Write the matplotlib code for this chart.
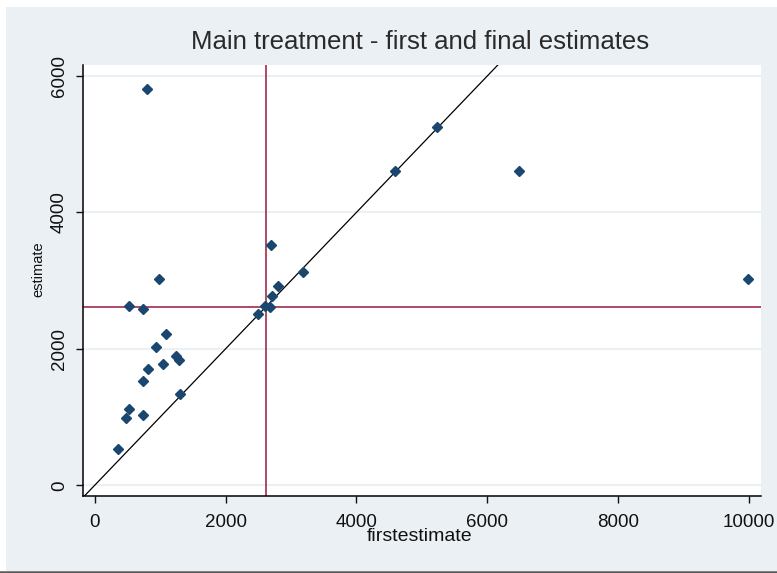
import matplotlib
matplotlib.use("Agg")
import matplotlib.pyplot as plt
from matplotlib.patches import Rectangle
from matplotlib.lines import Line2D

plt.rcParams['font.family'] = ['Liberation Sans', 'DejaVu Sans']

# data
firstestimate = [800, 990, 520, 740, 1090, 940, 1240, 1290, 1040, 820, 740, 1300,
                 525, 475, 740, 350, 2490, 2600, 2680, 2710, 2795, 2690, 3190,
                 4595, 5230, 6480, 9990]
estimate = [5805, 3030, 2630, 2580, 2225, 2020, 1890, 1830, 1785, 1710, 1525, 1335,
            1125, 980, 1030, 535, 2515, 2635, 2610, 2770, 2915, 3520, 3125,
            4600, 5256, 4600, 3025]
ref_x = 2618
ref_y = 2615
xticks = [0, 2000, 4000, 6000, 8000, 10000]
yticks = [0, 2000, 4000, 6000]

W, H = 777, 573
fig = plt.figure(figsize=(W / 100, H / 100), dpi=100)
fig.patch.set_facecolor("white")

# stata-like graph region
fig.patches.append(Rectangle((6 / W, 2 / H), 1 - 6 / W, 1 - 9 / H, transform=fig.transFigure,
                             facecolor="#ebf0f5", edgecolor="none", zorder=-10))
fig.lines.append(Line2D([0, 1], [1.2 / H, 1.2 / H], transform=fig.transFigure,
                        color="#5a5a5a", lw=1.8, zorder=-5))

ax = fig.add_axes([83.3 / W, 1 - 496 / H, (761 - 83.3) / W, (496 - 65) / H])
ax.set_facecolor("white")

ax.set_xlim(-174, 10183)
ax.set_ylim(-157, 6161)

for t in yticks:
    ax.axhline(t, color="#eaf0f3", lw=1.5, zorder=1)

ax.plot([-500, 11000], [-500, 11000], color="black", lw=0.9, zorder=2)
ax.axvline(ref_x, color="#a02c4c", lw=1.2, zorder=2)
ax.axhline(ref_y, color="#a02c4c", lw=1.2, zorder=2)

ax.plot(firstestimate, estimate, "D", color="#1a476f", markersize=5.5, zorder=3)

ax.set_xticks(xticks)
ax.set_yticks(yticks)
ax.tick_params(axis="both", direction="out", length=5, width=1, labelsize=13.5,
               colors="#111111")
ax.tick_params(axis="x", pad=8)
ax.tick_params(axis="y", pad=6)
for lab in ax.get_yticklabels():
    lab.set_rotation(90)
    lab.set_va("center")

for s in ["top", "right"]:
    ax.spines[s].set_visible(False)
for s in ["left", "bottom"]:
    ax.spines[s].set_linewidth(1.1)

ax.set_xlabel("firstestimate", fontsize=14, va="center", color="#111111")
ax.xaxis.set_label_coords(0.4968, -0.0951)
ax.set_ylabel("estimate", fontsize=10.5, va="center", color="#111111")
ax.yaxis.set_label_coords(-0.0665, 0.527)

fig.text(420 / W, 1 - 42 / H, "Main treatment - first and final estimates",
         ha="center", va="center", fontsize=18.5, color="#2a2a2a")

fig.savefig("out.png", dpi=100, facecolor=fig.get_facecolor())
